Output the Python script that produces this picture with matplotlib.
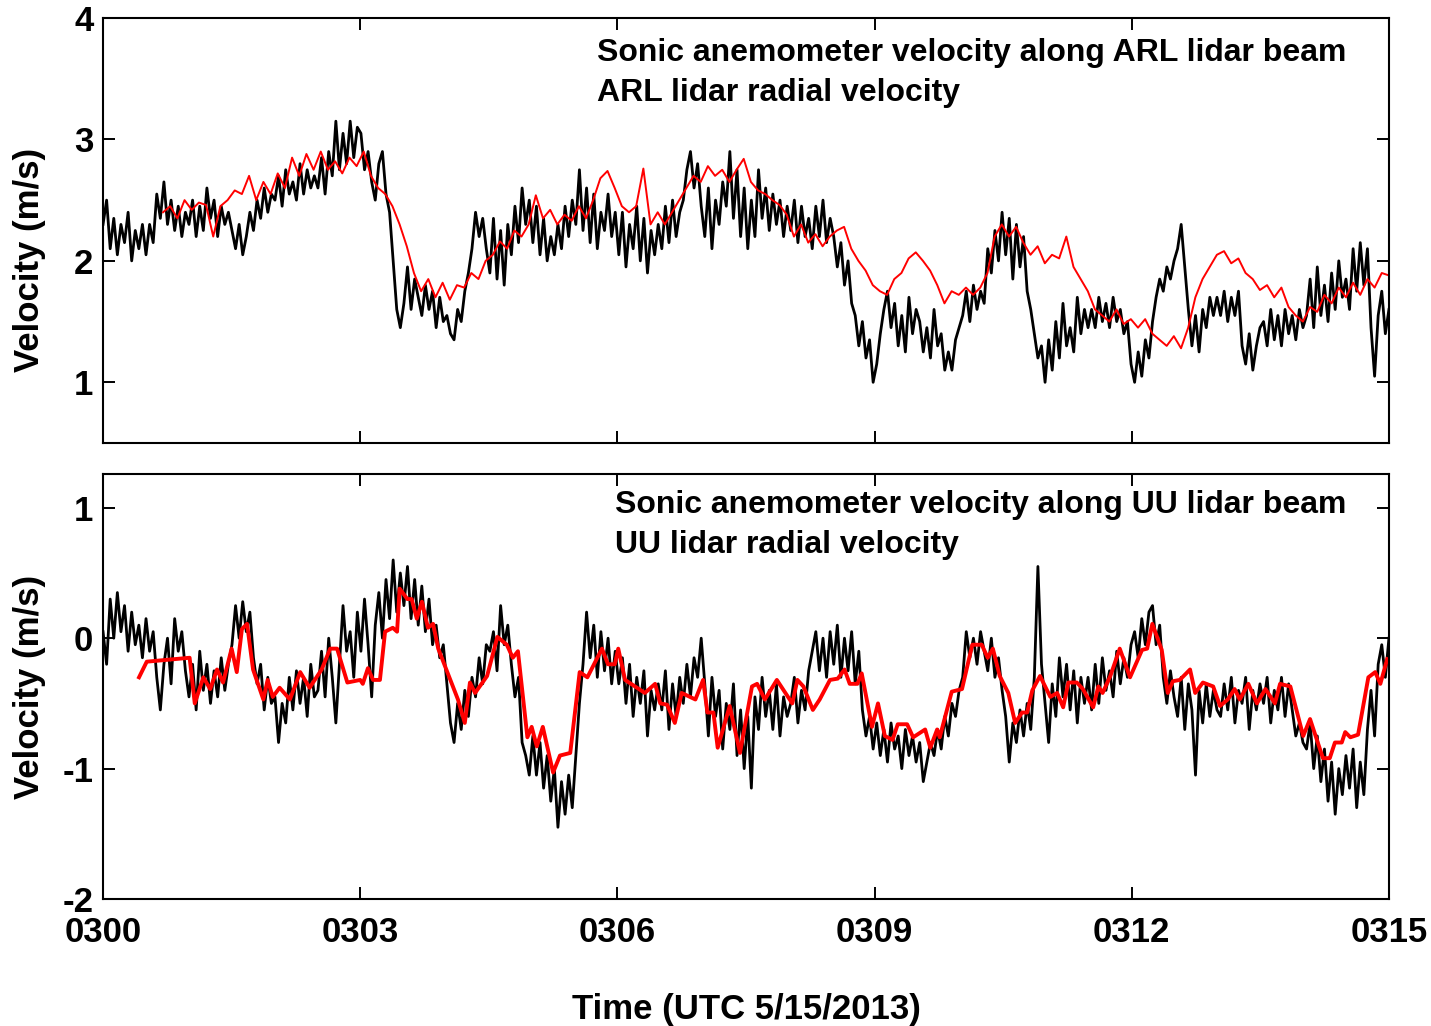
import numpy as np
import matplotlib
matplotlib.use("Agg")
import matplotlib.pyplot as plt

plt.rcParams['font.family'] = ['Liberation Sans', 'DejaVu Sans']
plt.rcParams['font.weight'] = 'bold'
plt.rcParams['axes.unicode_minus'] = False

# time axis (minutes after 0300 UTC)
tick_min = [0, 3, 6, 9, 12, 15]
tick_lab = ['0300', '0303', '0306', '0309', '0312', '0315']

# sonic velocity along ARL beam (m/s), 12 samples per half minute
sonic_arl = [
    2.3, 2.5, 2.1, 2.35, 2.05, 2.3, 2.15, 2.4, 2.0, 2.25, 2.1, 2.3,
    2.05, 2.3, 2.15, 2.55, 2.35, 2.65, 2.3, 2.5, 2.25, 2.45, 2.2, 2.4,
    2.3, 2.5, 2.2, 2.45, 2.25, 2.6, 2.35, 2.5, 2.2, 2.45, 2.3, 2.4,
    2.25, 2.1, 2.3, 2.05, 2.2, 2.4, 2.25, 2.5, 2.35, 2.6, 2.4, 2.55,
    2.5, 2.7, 2.45, 2.75, 2.55, 2.65, 2.5, 2.8, 2.55, 2.75, 2.6, 2.7,
    2.6, 2.85, 2.55, 2.9, 2.7, 3.15, 2.75, 3.05, 2.8, 3.15, 2.85, 3.1,
    3.05, 2.75, 2.9, 2.65, 2.5, 2.8, 2.9, 2.55, 2.4, 2.0, 1.6, 1.45,
    1.65, 1.95, 1.6, 1.85, 1.7, 1.55, 1.8, 1.6, 1.75, 1.45, 1.7, 1.5,
    1.55, 1.4, 1.35, 1.6, 1.5, 1.75, 1.9, 2.1, 2.4, 2.2, 2.35, 2.1,
    1.9, 2.35, 1.85, 2.25, 1.8, 2.3, 2.05, 2.45, 2.15, 2.6, 2.3, 2.5,
    2.15, 2.45, 2.05, 2.35, 2.0, 2.2, 2.05, 2.3, 2.1, 2.45, 2.2, 2.5,
    2.3, 2.75, 2.25, 2.6, 2.15, 2.55, 2.1, 2.4, 2.25, 2.55, 2.2, 2.4,
    2.05, 2.4, 1.95, 2.3, 2.1, 2.45, 2.0, 2.35, 1.9, 2.25, 2.05, 2.3,
    2.1, 2.45, 2.15, 2.5, 2.2, 2.4, 2.5, 2.75, 2.9, 2.6, 2.8, 2.45,
    2.2, 2.6, 2.1, 2.5, 2.3, 2.65, 2.45, 2.9, 2.35, 2.75, 2.2, 2.6,
    2.1, 2.5, 2.2, 2.75, 2.35, 2.6, 2.25, 2.55, 2.3, 2.5, 2.2, 2.45,
    2.25, 2.5, 2.15, 2.45, 2.2, 2.35, 2.1, 2.45, 2.2, 2.5, 2.15, 2.35,
    2.2, 1.95, 2.15, 1.8, 2.0, 1.65, 1.55, 1.3, 1.5, 1.2, 1.35, 1.0,
    1.15, 1.4, 1.6, 1.75, 1.45, 1.65, 1.3, 1.55, 1.25, 1.7, 1.4, 1.6,
    1.5, 1.25, 1.45, 1.2, 1.6, 1.3, 1.4, 1.1, 1.25, 1.1, 1.35, 1.45,
    1.55, 1.75, 1.5, 1.8, 1.6, 1.75, 1.65, 2.1, 1.9, 2.25, 2.0, 2.4,
    2.05, 2.35, 1.85, 2.3, 1.95, 2.2, 1.75, 1.6, 1.4, 1.2, 1.3, 1.0,
    1.35, 1.1, 1.5, 1.2, 1.65, 1.3, 1.45, 1.25, 1.7, 1.4, 1.6, 1.45,
    1.6, 1.45, 1.7, 1.5, 1.65, 1.45, 1.7, 1.5, 1.6, 1.4, 1.5, 1.15,
    1.0, 1.25, 1.05, 1.35, 1.2, 1.5, 1.7, 1.85, 1.75, 1.95, 1.85, 2.0,
    2.1, 2.3, 1.95, 1.6, 1.3, 1.55, 1.25, 1.6, 1.45, 1.7, 1.55, 1.7,
    1.55, 1.75, 1.5, 1.7, 1.55, 1.75, 1.3, 1.15, 1.4, 1.1, 1.3, 1.45,
    1.5, 1.3, 1.6, 1.35, 1.55, 1.3, 1.6, 1.4, 1.55, 1.35, 1.6, 1.45,
    1.55, 1.85, 1.45, 1.95, 1.55, 1.8, 1.5, 1.9, 1.6, 2.0, 1.7, 1.85,
    1.6, 2.1, 1.75, 2.15, 1.8, 2.1, 1.45, 1.05, 1.55, 1.75, 1.4, 1.6,
]

# ARL lidar radial velocity (m/s), from 0.7 min to 15 min
arl_start, arl_end = 0.7, 15.0
lidar_arl = [
    2.4, 2.45, 2.35, 2.5, 2.42, 2.48, 2.46, 2.2, 2.45, 2.5,
    2.58, 2.55, 2.7, 2.5, 2.65, 2.55, 2.72, 2.6, 2.85, 2.7,
    2.88, 2.75, 2.9, 2.75, 2.82, 2.72, 2.85, 2.78, 2.9, 2.7,
    2.6, 2.55, 2.45, 2.3, 2.12, 1.9, 1.75, 1.85, 1.7, 1.82,
    1.68, 1.8, 1.78, 1.9, 1.85, 2.0, 2.05, 2.16, 2.1, 2.25,
    2.2, 2.3, 2.54, 2.35, 2.42, 2.3, 2.38, 2.33, 2.45, 2.35,
    2.5, 2.68, 2.74, 2.6, 2.45, 2.4, 2.45, 2.76, 2.3, 2.4,
    2.3, 2.4, 2.5, 2.6, 2.7, 2.65, 2.78, 2.7, 2.75, 2.65,
    2.75, 2.84, 2.65, 2.58, 2.55, 2.5, 2.46, 2.38, 2.2, 2.3,
    2.15, 2.22, 2.12, 2.2, 2.25, 2.28, 2.1, 2.0, 1.92, 1.8,
    1.75, 1.72, 1.85, 1.9, 2.02, 2.07, 2.0, 1.92, 1.8, 1.65,
    1.75, 1.72, 1.78, 1.72, 1.78, 1.9, 2.2, 2.3, 2.2, 2.28,
    2.15, 2.05, 2.12, 1.98, 2.05, 2.02, 2.2, 1.95, 1.85, 1.75,
    1.6, 1.55, 1.5, 1.6, 1.48, 1.52, 1.45, 1.52, 1.4, 1.35,
    1.3, 1.38, 1.28, 1.45, 1.7, 1.85, 1.95, 2.05, 2.08, 1.98,
    2.02, 1.9, 1.85, 1.76, 1.8, 1.7, 1.78, 1.62, 1.55, 1.5,
    1.62, 1.58, 1.72, 1.65, 1.78, 1.7, 1.82, 1.72, 1.85, 1.78,
    1.9, 1.88,
]

# sonic velocity along UU beam (m/s), 12 samples per half minute
sonic_uu = [
    0.05, -0.2, 0.3, 0.0, 0.35, 0.05, 0.25, -0.1, 0.2, -0.05, 0.1, -0.15,
    0.15, -0.1, 0.05, -0.3, -0.55, -0.2, 0.0, -0.35, 0.15, -0.1, 0.05, -0.25,
    -0.45, -0.2, -0.55, -0.1, -0.4, -0.2, -0.5, -0.25, -0.45, -0.15, -0.4, -0.2,
    -0.05, 0.25, 0.0, 0.28, 0.05, 0.2, -0.15, -0.35, -0.2, -0.55, -0.3, -0.5,
    -0.45, -0.8, -0.5, -0.65, -0.3, -0.55, -0.25, -0.5, -0.3, -0.6, -0.2, -0.45,
    -0.4, -0.1, -0.45, 0.0, -0.3, -0.65, -0.2, 0.25, -0.1, 0.05, -0.3, 0.2,
    -0.1, 0.3, -0.05, -0.45, 0.1, 0.35, 0.0, 0.45, 0.15, 0.6, 0.2, 0.5,
    0.25, 0.55, 0.15, 0.45, 0.1, 0.4, 0.05, 0.3, -0.05, 0.1, -0.15, -0.05,
    -0.35, -0.65, -0.8, -0.5, -0.7, -0.4, -0.6, -0.3, -0.45, -0.15, -0.35, -0.05,
    -0.1, 0.05, -0.25, 0.25, -0.05, 0.1, -0.2, -0.45, -0.3, -0.8, -0.9, -1.05,
    -0.75, -1.05, -0.8, -1.15, -0.9, -1.25, -1.0, -1.45, -1.1, -1.35, -1.05, -1.3,
    -0.9, -0.5, -0.2, 0.2, -0.15, 0.1, -0.3, 0.05, -0.25, 0.0, -0.35, -0.1,
    -0.35, -0.15, -0.5, -0.2, -0.6, -0.3, -0.5, -0.25, -0.75, -0.4, -0.55, -0.35,
    -0.55, -0.25, -0.7, -0.35, -0.6, -0.3, -0.5, -0.2, -0.45, -0.15, -0.3, 0.0,
    -0.35, -0.75, -0.3, -0.6, -0.4, -0.85, -0.5, -0.7, -0.35, -0.9, -0.55, -1.0,
    -0.6, -1.15, -0.45, -0.7, -0.3, -0.6, -0.4, -0.7, -0.35, -0.75, -0.45, -0.6,
    -0.5, -0.3, -0.65, -0.4, -0.55, -0.25, -0.1, 0.05, -0.25, 0.0, -0.3, 0.05,
    -0.2, 0.1, -0.3, 0.0, -0.25, 0.05, -0.35, -0.1, -0.55, -0.75, -0.6, -0.85,
    -0.65, -0.9, -0.7, -0.95, -0.65, -0.85, -0.75, -1.0, -0.7, -0.9, -0.75, -0.95,
    -0.8, -1.1, -0.95, -0.8, -0.9, -0.7, -0.85, -0.6, -0.75, -0.5, -0.6, -0.4,
    -0.3, 0.05, -0.15, 0.0, -0.2, 0.05, -0.1, -0.25, 0.0, -0.3, -0.15, -0.4,
    -0.6, -0.95, -0.65, -0.8, -0.55, -0.75, -0.5, -0.7, -0.3, 0.55, -0.2, -0.5,
    -0.8, -0.35, -0.6, -0.15, -0.45, -0.2, -0.55, -0.25, -0.65, -0.3, -0.5, -0.3,
    -0.55, -0.2, -0.5, -0.15, -0.4, -0.25, -0.45, -0.1, -0.35, -0.15, -0.3, -0.05,
    0.05, -0.15, 0.15, -0.05, 0.2, 0.25, -0.05, 0.1, -0.3, -0.5, -0.25, -0.45,
    -0.6, -0.3, -0.7, -0.35, -0.55, -1.05, -0.4, -0.65, -0.35, -0.6, -0.4, -0.55,
    -0.6, -0.35, -0.55, -0.3, -0.65, -0.4, -0.5, -0.3, -0.7, -0.4, -0.55, -0.35,
    -0.5, -0.3, -0.65, -0.4, -0.55, -0.3, -0.6, -0.35, -0.55, -0.75, -0.65, -0.8,
    -0.85, -0.65, -1.0, -0.75, -1.1, -0.85, -1.25, -0.95, -1.35, -1.0, -1.2, -0.9,
    -1.15, -0.85, -1.3, -0.95, -1.2, -0.7, -0.4, -0.75, -0.2, -0.05, -0.3, 0.0,
]

# UU lidar radial velocity: times (min) and values (m/s)
uu_time = [
    0.42, 0.51, 1.01, 1.07, 1.17, 1.25, 1.33, 1.40, 1.50, 1.56,
    1.62, 1.68, 1.75, 1.87, 1.92, 1.98, 2.06, 2.18, 2.30, 2.41,
    2.55, 2.65, 2.73, 2.85, 3.00, 3.03, 3.09, 3.15, 3.23, 3.29,
    3.38, 3.43, 3.46, 3.55, 3.60, 3.66, 3.72, 3.79, 3.85, 3.91,
    4.14, 4.22, 4.28, 4.34, 4.48, 4.60, 4.71, 4.78, 4.84, 4.95,
    5.00, 5.06, 5.13, 5.25, 5.33, 5.45, 5.56, 5.65, 5.82, 5.89,
    5.97, 6.01, 6.09, 6.32, 6.44, 6.50, 6.58, 6.67, 6.75, 6.91,
    7.00, 7.05, 7.12, 7.17, 7.31, 7.43, 7.57, 7.63, 7.72, 7.86,
    8.04, 8.10, 8.17, 8.28, 8.36, 8.48, 8.57, 8.65, 8.71, 8.80,
    8.85, 8.97, 9.04, 9.12, 9.21, 9.27, 9.38, 9.45, 9.59, 9.65,
    9.73, 9.76, 9.90, 10.02, 10.14, 10.25, 10.32, 10.38, 10.46, 10.56,
    10.64, 10.72, 10.78, 10.84, 10.93, 11.05, 11.13, 11.20, 11.26, 11.36,
    11.43, 11.55, 11.61, 11.66, 11.75, 11.86, 11.98, 12.12, 12.18, 12.24,
    12.35, 12.42, 12.48, 12.56, 12.68, 12.74, 12.83, 12.95, 13.03, 13.12,
    13.20, 13.26, 13.36, 13.46, 13.56, 13.67, 13.73, 13.85, 14.00, 14.08,
    14.23, 14.31, 14.37, 14.45, 14.49, 14.55, 14.64, 14.76, 14.84, 14.90,
    14.98,
]
lidar_uu = [
    -0.3, -0.18, -0.15, -0.5, -0.3, -0.39, -0.24, -0.34, -0.08, -0.26,
    0.07, 0.11, -0.24, -0.47, -0.32, -0.45, -0.38, -0.47, -0.26, -0.38,
    -0.24, -0.08, -0.08, -0.34, -0.32, -0.35, -0.23, -0.32, -0.32, 0.05,
    0.08, 0.05, 0.38, 0.3, 0.3, 0.15, 0.28, 0.08, 0.11, -0.08,
    -0.47, -0.65, -0.34, -0.42, -0.29, 0.01, -0.05, -0.15, -0.1, -0.76,
    -0.68, -0.83, -0.68, -1.03, -0.9, -0.88, -0.26, -0.3, -0.08, -0.2,
    -0.2, -0.08, -0.32, -0.42, -0.35, -0.5, -0.51, -0.65, -0.42, -0.47,
    -0.32, -0.57, -0.57, -0.84, -0.52, -0.88, -0.37, -0.35, -0.47, -0.32,
    -0.5, -0.32, -0.37, -0.55, -0.47, -0.32, -0.31, -0.24, -0.35, -0.35,
    -0.27, -0.68, -0.5, -0.75, -0.78, -0.66, -0.66, -0.76, -0.7, -0.84,
    -0.7, -0.76, -0.41, -0.39, -0.05, -0.05, -0.15, -0.08, -0.29, -0.42,
    -0.65, -0.57, -0.57, -0.4, -0.29, -0.45, -0.42, -0.53, -0.34, -0.34,
    -0.39, -0.53, -0.37, -0.42, -0.29, -0.08, -0.3, -0.09, -0.08, 0.11,
    -0.09, -0.42, -0.33, -0.32, -0.24, -0.42, -0.34, -0.37, -0.52, -0.47,
    -0.39, -0.47, -0.35, -0.5, -0.39, -0.5, -0.35, -0.37, -0.75, -0.62,
    -0.92, -0.92, -0.8, -0.8, -0.72, -0.76, -0.74, -0.3, -0.26, -0.35,
    -0.16,
]

t_sonic_arl = np.linspace(0, 15, len(sonic_arl))
t_sonic_uu = np.linspace(0, 15, len(sonic_uu))
t_lidar_arl = np.linspace(arl_start, arl_end, len(lidar_arl))

fig = plt.figure(figsize=(14.31, 10.26), dpi=100)
ax1 = fig.add_axes([0.072, 0.5682, 0.8986, 0.4143])
ax2 = fig.add_axes([0.072, 0.1238, 0.8986, 0.4143])

ax1.plot(t_sonic_arl, sonic_arl, color='black', lw=2.0,
         label='Sonic anemometer velocity along ARL lidar beam')
ax1.plot(t_lidar_arl, lidar_arl, color='red', lw=1.4,
         label='ARL lidar radial velocity')
ax2.plot(t_sonic_uu, sonic_uu, color='black', lw=2.0,
         label='Sonic anemometer velocity along UU lidar beam')
ax2.plot(uu_time, lidar_uu, color='red', lw=2.8,
         label='UU lidar radial velocity')

ax1.set_ylim(0.5, 4)
ax1.set_yticks([1, 2, 3, 4])
ax2.set_ylim(-2, 1.26)
ax2.set_yticks([-2, -1, 0, 1])

for ax in (ax1, ax2):
    ax.set_xlim(0, 15)
    ax.set_xticks(tick_min)
    ax.tick_params(direction='in', length=8.5, width=1.4, top=True,
                   right=True, labelsize=25, pad=7)
    for s in ax.spines.values():
        s.set_linewidth(1.5)
    ax.set_ylabel('Velocity (m/s)', fontsize=25, fontweight='bold')
    for lab in ax.get_yticklabels():
        lab.set_fontweight('bold')

ax1.set_xticklabels([])
ax2.set_xticklabels(tick_lab, fontweight='bold')
ax2.tick_params(axis='x', pad=12)
ax2.set_xlabel('Time (UTC 5/15/2013)', fontsize=25, fontweight='bold',
               labelpad=32)

ax1.yaxis.set_label_coords(-0.044, 0.43)
ax2.yaxis.set_label_coords(-0.044, 0.5)

ax1.legend(loc='upper left', bbox_to_anchor=(0.372, 0.99), frameon=False,
           handlelength=0, handletextpad=0, borderpad=0, labelspacing=0.32,
           prop={'size': 23, 'weight': 'bold'})
ax2.legend(loc='upper left', bbox_to_anchor=(0.386, 1.0), frameon=False,
           handlelength=0, handletextpad=0, borderpad=0, labelspacing=0.32,
           prop={'size': 23, 'weight': 'bold'})

fig.savefig('out.png', dpi=100)
